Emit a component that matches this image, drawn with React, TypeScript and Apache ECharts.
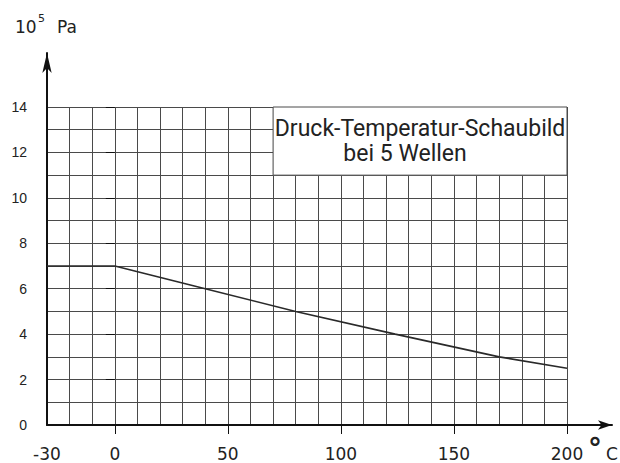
import React, { useEffect, useRef } from "react";
import * as echarts from "echarts";

const temperatures = [-30, 0, 40, 80, 124, 170, 200];
const pressures = [7, 7, 6, 5, 4, 3, 2.5];
const xLabelValues = [-30, 0, 50, 100, 150, 200];
const xTickValues = [0, 50, 100, 150, 200];
const yLabelValues = [0, 2, 4, 6, 8, 10, 12, 14];
const yTickValues = [2, 4, 6, 8, 10, 12, 14];
const boxTemps = [70, 200];
const boxPressures = [11, 14];
const titleLines = ["Druck-Temperatur-Schaubild", "bei 5 Wellen"];
const yUnit = ["10", "5", "Pa"];
const xUnit = ["°", "C"];

export default function App() {
  const ref = useRef<HTMLDivElement>(null);
  useEffect(() => {
    const chart = echarts.init(ref.current!, null, { renderer: "svg" });
    const gridColor = "#4a4a4a";
    const axisColor = "#111";
    const labelFont = "DejaVu Sans";
    chart.setOption({
      animation: false,
      backgroundColor: "#fff",
      grid: [
        { left: 47, right: 53, top: 107, bottom: 38 },
        { left: 47, right: 8, top: 53, bottom: 38 },
      ],
      xAxis: [
        {
          type: "value", gridIndex: 0, min: -30, max: 200, interval: 10,
          axisLine: { show: false }, axisTick: { show: false }, axisLabel: { show: false },
          splitLine: { show: true, lineStyle: { color: gridColor, width: 1 } },
        },
        {
          type: "value", gridIndex: 0, position: "bottom", min: -30, max: 200,
          axisLine: { show: false }, splitLine: { show: false },
          axisTick: { show: true, customValues: xTickValues, length: 9, lineStyle: { color: axisColor, width: 1 } },
          axisLabel: { show: true, customValues: xLabelValues, margin: 20, fontFamily: labelFont, fontSize: 17, color: "#222" },
        },
        {
          type: "value", gridIndex: 1, min: 0, max: 1,
          axisLine: { show: true, onZero: false, symbol: ["none", "arrow"], symbolSize: [7, 14], lineStyle: { color: axisColor, width: 2 } },
          axisTick: { show: false }, axisLabel: { show: false }, splitLine: { show: false },
        },
      ],
      yAxis: [
        {
          type: "value", gridIndex: 0, min: 0, max: 14, interval: 1,
          axisLine: { show: false }, axisTick: { show: false }, axisLabel: { show: false },
          splitLine: { show: true, lineStyle: { color: gridColor, width: 1 } },
        },
        {
          type: "value", gridIndex: 0, position: "left", min: 0, max: 14,
          axisLine: { show: false }, splitLine: { show: false },
          axisTick: { show: true, customValues: yTickValues, length: 9, lineStyle: { color: axisColor, width: 1 } },
          axisLabel: { show: true, customValues: yLabelValues, margin: 20, fontFamily: "Liberation Sans", fontSize: 14, color: "#222" },
        },
        {
          type: "value", gridIndex: 1, min: 0, max: 1,
          axisLine: { show: true, onZero: false, symbol: ["none", "arrow"], symbolSize: [7, 20], lineStyle: { color: axisColor, width: 2 } },
          axisTick: { show: false }, axisLabel: { show: false }, splitLine: { show: false },
        },
      ],
      series: [
        {
          type: "line", xAxisIndex: 0, yAxisIndex: 0,
          data: temperatures.map((t, i) => [t, pressures[i]]),
          symbol: "none",
          lineStyle: { color: "#2a2a2a", width: 1.6 },
          markArea: {
            silent: true,
            itemStyle: { color: "#fff", borderColor: gridColor, borderWidth: 1, opacity: 1 },
            label: {
              show: true, position: "inside",
              formatter: `{a|${titleLines[0]}}\n{b|${titleLines[1]}}`,
              rich: {
                a: { fontFamily: "Roboto", fontSize: 23, color: "#222", lineHeight: 25 },
                b: { fontFamily: "Roboto", fontSize: 23, color: "#222", lineHeight: 25, padding: [0, 30, 0, 0] },
              },
            },
            data: [[{ coord: [boxTemps[0], boxPressures[0]] }, { coord: [boxTemps[1], boxPressures[1]] }]],
          },
        },
      ],
      graphic: [
        { type: "text", x: 15, y: 27, style: { text: yUnit[0], fontFamily: labelFont, fontSize: 17, fill: "#222", textVerticalAlign: "middle" } },
        { type: "text", x: 38, y: 18, style: { text: yUnit[1], fontFamily: labelFont, fontSize: 11, fill: "#222", textVerticalAlign: "middle" } },
        { type: "text", x: 57, y: 27, style: { text: yUnit[2], fontFamily: labelFont, fontSize: 17, fill: "#222", textVerticalAlign: "middle" } },
        { type: "text", x: 588, y: 434, style: { text: xUnit[0], fontFamily: labelFont, fontSize: 28, fontWeight: "bold", fill: "#222", textVerticalAlign: "top" } },
        { type: "text", x: 606, y: 454, style: { text: xUnit[1], fontFamily: labelFont, fontSize: 17, fill: "#222", textVerticalAlign: "middle" } },
      ],
    });
    return () => chart.dispose();
  }, []);
  return <div ref={ref} style={{ position: "absolute", left: 0, top: 0, width: 620, height: 463, background: "#fff" }} />;
}
